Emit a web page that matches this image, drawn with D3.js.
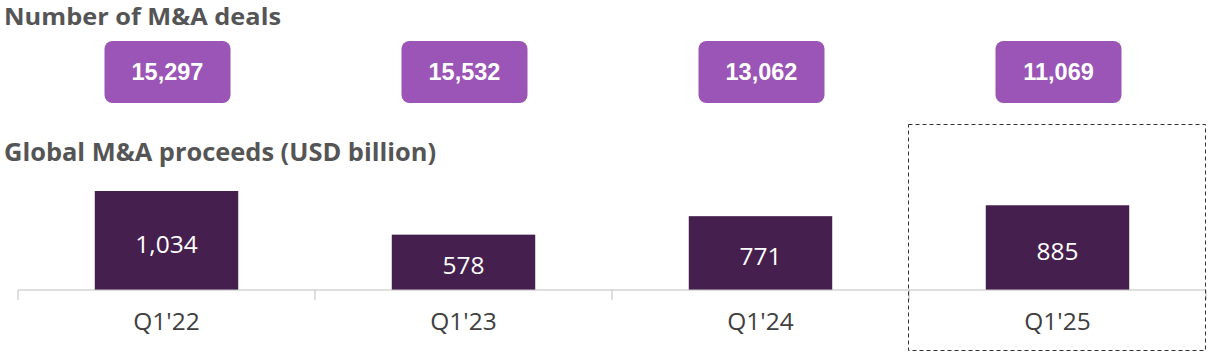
<!DOCTYPE html>
<html><head><meta charset="utf-8">
<script src="https://cdn.jsdelivr.net/npm/d3@7"></script>
<style>body{margin:0;background:#fff}svg{display:block}</style>
</head><body>
<svg id="c" width="1210" height="355"></svg>
<script>
const categories = ["Q1'22", "Q1'23", "Q1'24", "Q1'25"];
const proceeds = [1034, 578, 771, 885];
const deals = [15297, 15532, 13062, 11069];
const titles = ["Number of M&A deals", "Global M&A proceeds (USD billion)"];

const svg = d3.select("#c");
const x = d3.scaleBand().domain(categories).range([18, 1206]).paddingInner(0).paddingOuter(0);
const y = d3.scaleLinear().domain([0, 1034]).range([290, 191]);
const barW = x.bandwidth() * 0.483;
const fmt = d3.format(",");

svg.append("text").attr("x", 4).attr("y", 24.8).text(titles[0])
  .attr("textLength", 277).attr("lengthAdjust", "spacingAndGlyphs")
  .attr("font-family", "Open Sans").attr("font-weight", 700).attr("font-size", 23).attr("fill", "#555");
svg.append("text").attr("x", 4).attr("y", 160.5).text(titles[1])
  .attr("textLength", 432).attr("lengthAdjust", "spacingAndGlyphs")
  .attr("font-family", "Open Sans").attr("font-weight", 700).attr("font-size", 24.5).attr("fill", "#555");

// deal boxes
const bw = 126, bh = 62;
const g1 = svg.append("g");
g1.selectAll("rect").data(deals).join("rect")
  .attr("x", (d, i) => x(categories[i]) + x.bandwidth() / 2 + 1 - bw / 2)
  .attr("y", 41).attr("width", bw).attr("height", bh).attr("rx", 8)
  .attr("fill", "#9b55b6");
g1.selectAll("text").data(deals).join("text")
  .attr("x", (d, i) => x(categories[i]) + x.bandwidth() / 2 + 1)
  .attr("y", 72).attr("dy", "0.35em").attr("text-anchor", "middle")
  .attr("font-family", "Liberation Sans").attr("font-weight", 700).attr("font-size", 23.5)
  .attr("fill", "#fff").text(d => fmt(d));

// bars
svg.append("g").selectAll("rect").data(proceeds).join("rect")
  .attr("x", (d, i) => x(categories[i]) + x.bandwidth() / 2 - barW / 2)
  .attr("y", d => y(d)).attr("width", barW).attr("height", d => y(0) - y(d))
  .attr("fill", "#45204f");
svg.append("g").selectAll("text").data(proceeds).join("text")
  .attr("x", (d, i) => x(categories[i]) + x.bandwidth() / 2)
  .attr("y", d => (y(d) + y(0)) / 2 + 3.5).attr("dy", "0.35em").attr("text-anchor", "middle")
  .attr("font-family", "Open Sans").attr("font-size", 24.5).attr("fill", "#fff").text(d => fmt(d));

// axis
const axis = svg.append("g").attr("transform", "translate(0,290)")
  .call(d3.axisBottom(x).tickSize(0).tickPadding(23));
axis.select(".domain").attr("stroke", "#bfbfbf").attr("d", "M18,0H1206");
axis.selectAll("text").attr("font-family", "Open Sans").attr("font-size", 24.5).attr("fill", "#404040");
const bounds = categories.map(c => x(c)).concat([x.range()[1]]);
axis.selectAll(".bound").data(bounds).join("line").attr("class", "bound")
  .attr("x1", d => d).attr("x2", d => d).attr("y1", 0).attr("y2", 10)
  .attr("stroke", "#bfbfbf");

// highlight box
const last = categories[categories.length - 1];
svg.append("rect").attr("x", x(last) - 0.5).attr("y", 124.5)
  .attr("width", x.bandwidth()).attr("height", 226)
  .attr("fill", "none").attr("stroke", "#333").attr("stroke-dasharray", "4,3");
</script>
</body></html>
